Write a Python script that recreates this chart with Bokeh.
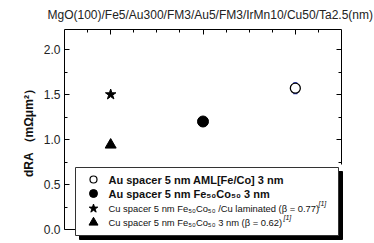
from bokeh.plotting import figure
from bokeh.models import LinearAxis, FixedTicker, PrintfTickFormatter
from bokeh.core.properties import value
from bokeh.embed import file_html
from bokeh.resources import INLINE

# ---------------- data ----------------
title_text = "MgO(100)/Fe5/Au300/FM3/Au5/FM3/IrMn10/Cu50/Ta2.5(nm)"
y_label = "dRA （mΩμm²）"
series_labels = [
    "Au spacer 5 nm AML[Fe/Co] 3 nm",
    "Au spacer 5 nm Fe₅₀Co₅₀ 3 nm",
    "Cu spacer 5 nm Fe₅₀Co₅₀ /Cu laminated (β = 0.77)",
    "Cu spacer 5 nm Fe₅₀Co₅₀ 3 nm (β = 0.62)",
]
series_refs = ["", "", "[1]", "[1]"]
x_pos = [3, 2, 1, 1]
dra = [1.57, 1.20, 1.50, 0.94]
dra_err = [0.06, 0.0, 0.0, 0.0]
y_ticks = [0.0, 0.5, 1.0, 1.5, 2.0]
y_minor = [0.25, 0.75, 1.25, 1.75]
x_ticks = [1, 2, 3]
x_minor = [0.75, 1.25, 1.5, 1.75, 2.25, 2.5, 2.75, 3.25]

# ---------------- layout ----------------
W, H = 374, 243
FL, FR, FT, FB = 64, 341, 29, 243   # frame in page px
Y0 = 229                             # page px of y = 0
PPU_Y = 90.0
X_START, X_END = 0.5, 3.5
Y_END = (Y0 - FT) / PPU_Y
Y_START = -(FB - Y0) / PPU_Y
FONT = "Liberation Sans"


def dx(px):
    return X_START + (px - FL) * (X_END - X_START) / (FR - FL)


def dy(py):
    return (Y0 - py) / PPU_Y


p = figure(width=W, height=H, x_range=(X_START, X_END), y_range=(Y_START, Y_END),
           x_axis_location="above", output_backend="svg", toolbar_location=None,
           min_border_left=FL, min_border_right=W - FR,
           min_border_top=FT, min_border_bottom=H - FB)
p.outline_line_color = None
p.grid.visible = False
p.background_fill_color = "white"
p.border_fill_color = "white"

# title
p.title.text = title_text
p.title.align = "left"
p.title.offset = -17
p.title.vertical_align = "top"
p.title.standoff = 12
p.title.text_font = FONT
p.title.text_font_size = "12px"
p.title.text_font_style = "normal"
p.title.text_color = "#222222"

# left axis
ya = p.yaxis[0]
ya.ticker = FixedTicker(ticks=y_ticks, minor_ticks=y_minor)
ya.formatter = PrintfTickFormatter(format="%.1f")
ya.bounds = (0, Y_END)
ya.major_tick_in, ya.major_tick_out = 5, 0
ya.minor_tick_in, ya.minor_tick_out = 3, 0
ya.major_label_text_font = FONT
ya.major_label_text_font_size = "12px"
ya.major_label_text_color = "#222222"
ya.major_label_standoff = 4
ya.axis_label = "\u00a0" * 4 + y_label
ya.axis_label_text_font = FONT
ya.axis_label_text_font_size = "12px"
ya.axis_label_text_font_style = "bold"
ya.axis_label_text_color = "#111111"
ya.axis_label_standoff = 5

# top axis
xa = p.xaxis[0]
xa.ticker = FixedTicker(ticks=x_ticks, minor_ticks=x_minor)
xa.major_tick_in, xa.major_tick_out = 5, 0
xa.minor_tick_in, xa.minor_tick_out = 3, 0
xa.major_label_text_font_size = "0px"
xa.major_label_standoff = 0

# right axis
ra = LinearAxis(ticker=FixedTicker(ticks=y_ticks, minor_ticks=y_minor), bounds=(0.72, Y_END),
                major_tick_in=5, major_tick_out=0, minor_tick_in=3, minor_tick_out=0,
                major_label_text_font_size="0px", major_label_standoff=0)
p.add_layout(ra, "right")

# bottom frame line at y = 0
p.segment(x0=[X_START], y0=[0], x1=[X_END], y1=[0], line_color="black", line_width=1)

# ---------------- data marks ----------------
p.segment(x0=[x_pos[0]], y0=[dra[0] - dra_err[0]], x1=[x_pos[0]], y1=[dra[0] + dra_err[0]],
          line_color="#1a2fd0", line_width=1.2)
p.scatter(x=[x_pos[0]] * 2, y=[dra[0] - dra_err[0], dra[0] + dra_err[0]], marker="dash",
          size=4, line_color="#1a2fd0", line_width=1.2)
p.scatter(x=[x_pos[0]], y=[dra[0]], marker="circle", size=10, fill_color="white",
          line_color="black", line_width=1.3)
p.scatter(x=[x_pos[1]], y=[dra[1]], marker="circle", size=11, fill_color="black", line_color="black")
p.scatter(x=[x_pos[2]], y=[dra[2]], marker="star", size=11, fill_color="black", line_color="black")
p.scatter(x=[x_pos[3]], y=[dra[3]], marker="triangle", size=11, fill_color="black", line_color="black")

# ---------------- legend (drawn) ----------------
LB_L, LB_T, LB_R, LB_B = 75, 167, 338, 235
SH = 4
p.quad(left=[dx(LB_L + SH)], right=[dx(LB_R + SH)], top=[dy(LB_T + SH)], bottom=[dy(LB_B + SH)],
       fill_color="black", line_color="black", level="overlay")
p.quad(left=[dx(LB_L)], right=[dx(LB_R)], top=[dy(LB_T)], bottom=[dy(LB_B)],
       fill_color="white", line_color="#333333", line_width=1, level="overlay")

row_py = [179, 193, 208, 222]
mk_px = 93
tx_px = 108
mk_x = [dx(mk_px)] * 4
mk_y = [dy(v) for v in row_py]
p.scatter(x=[mk_x[0]], y=[mk_y[0]], marker="circle", size=7, fill_color="white",
          line_color="black", line_width=1.2, level="overlay")
p.scatter(x=[mk_x[1]], y=[mk_y[1]], marker="circle", size=8, fill_color="black",
          line_color="black", level="overlay")
p.scatter(x=[mk_x[2]], y=[mk_y[2]], marker="star", size=9, fill_color="black",
          line_color="black", level="overlay")
p.scatter(x=[mk_x[3]], y=[mk_y[3]], marker="triangle", size=9, fill_color="black",
          line_color="black", level="overlay")

p.text(x=[dx(tx_px)] * 2, y=mk_y[:2], text=series_labels[:2], text_font=value(FONT),
       text_font_size="11px", text_font_style="bold", text_baseline="middle",
       text_color="#111111", level="overlay")
p.text(x=[dx(tx_px)] * 2, y=mk_y[2:], text=series_labels[2:], text_font=value(FONT),
       text_font_size="9.4px", text_baseline="middle", text_color="#111111", level="overlay")
sup_px = [318, 283]
p.text(x=[dx(v) for v in sup_px], y=[dy(v - 5) for v in row_py[2:]], text=series_refs[2:],
       text_font=value(FONT), text_font_size="7px", text_font_style="italic",
       text_baseline="middle", text_color="#111111", level="overlay")

open("out.html", "w").write(file_html(p, INLINE))
